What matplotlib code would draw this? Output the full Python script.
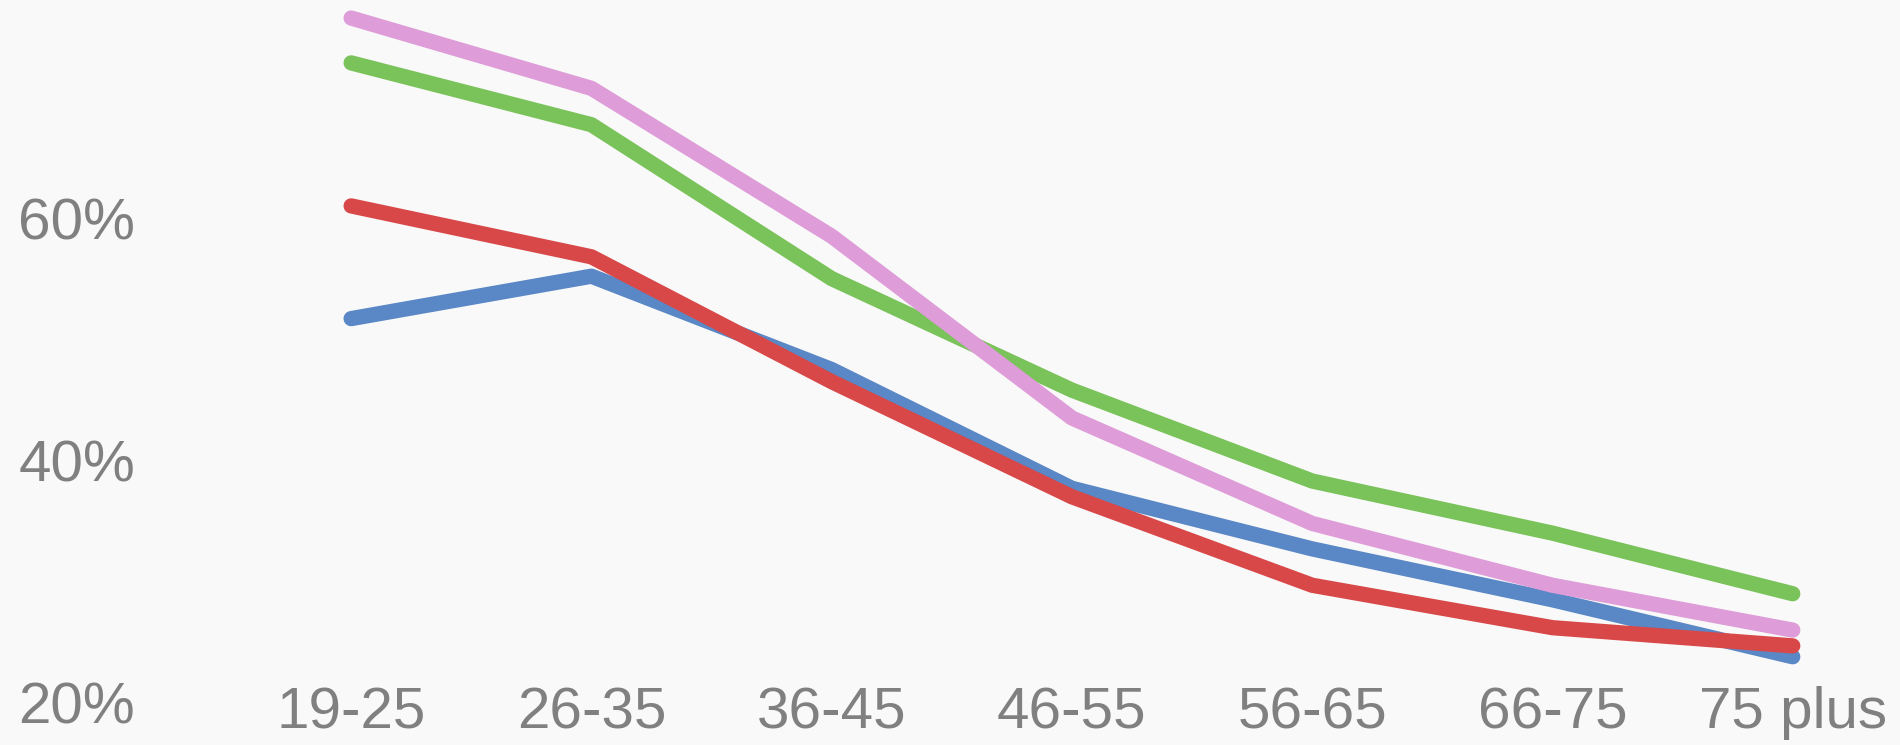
import matplotlib
matplotlib.use('Agg')
import matplotlib.pyplot as plt

age_groups = ['19-25', '26-35', '36-45', '46-55', '56-65', '66-75', '75 plus']
blue_vals = [51.7, 55.2, 47.5, 37.7, 32.7, 28.5, 23.8]
red_vals = [61.0, 56.8, 46.5, 37.0, 29.7, 26.2, 24.7]
green_vals = [72.8, 67.7, 55.0, 45.8, 38.3, 34.0, 29.0]
pink_vals = [76.5, 70.7, 58.5, 43.5, 34.8, 29.7, 26.0]

y_ticks = [20, 40, 60]
y_labels = ['20%', '40%', '60%']

bg = '#f9f9f9'
text_color = '#808080'

# Arial-like look
plt.rcParams['font.family'] = ['Liberation Sans', 'DejaVu Sans']

fig = plt.figure(figsize=(19, 7.45), dpi=100)
fig.patch.set_facecolor(bg)
ax = fig.add_axes([0.1595, 0.0566, 0.822, 0.9436])
ax.set_facecolor(bg)

x = range(len(age_groups))
# drawing order: blue, red, green, pink (pink ends up on top)
series = [
    (blue_vals, '#5a87c5'),
    (red_vals, '#d84848'),
    (green_vals, '#7ac25a'),
    (pink_vals, '#de9cd8'),
]
for vals, col in series:
    ax.plot(x, vals, color=col, linewidth=11,
            solid_capstyle='round', solid_joinstyle='round')

ax.set_xlim(-0.2, 6.3)
ax.set_ylim(20, 78)

ax.set_xticks(list(x))
ax.set_xticklabels(age_groups)
ax.set_yticks(y_ticks)
ax.set_yticklabels(y_labels)
for lbl in ax.get_yticklabels():
    lbl.set_horizontalalignment('left')

ax.tick_params(axis='both', length=0, labelsize=42, colors=text_color)
ax.tick_params(axis='y', pad=205)
ax.tick_params(axis='x', pad=-12)

for s in ax.spines.values():
    s.set_visible(False)

fig.savefig('out.png', dpi=100, facecolor=bg)
